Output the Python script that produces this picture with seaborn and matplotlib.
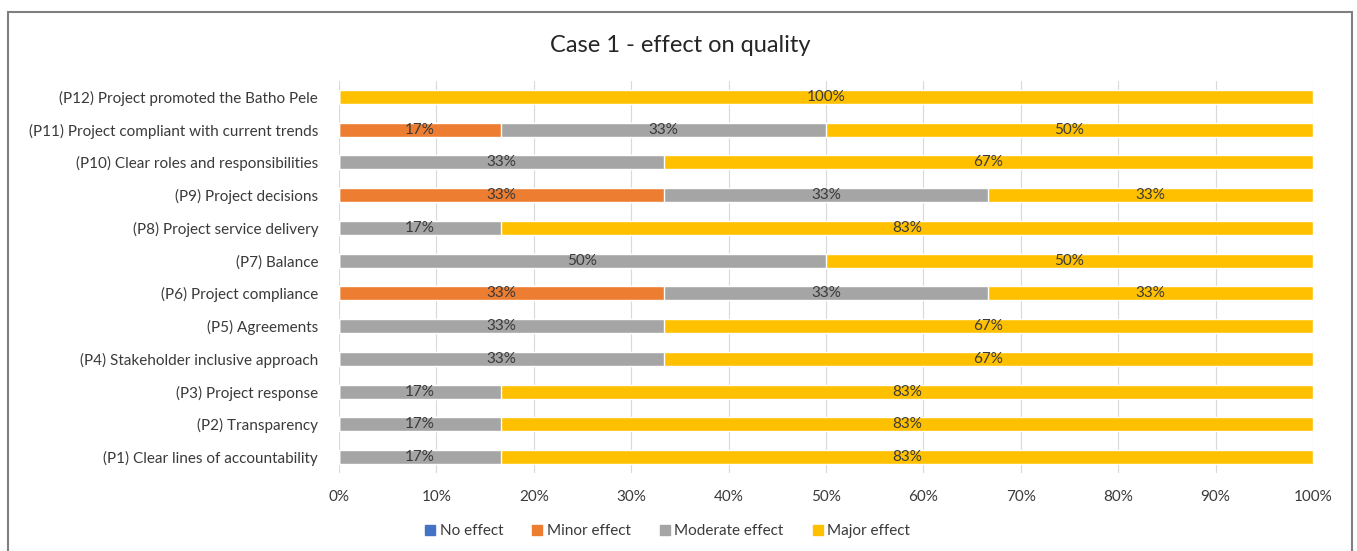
import matplotlib
matplotlib.use("Agg")
import matplotlib.pyplot as plt
import matplotlib.patches as mpatches
import numpy as np
import pandas as pd
import seaborn as sns

categories = [
    "(P12) Project promoted the Batho Pele",
    "(P11) Project compliant with current trends",
    "(P10) Clear roles and responsibilities",
    "(P9) Project decisions",
    "(P8) Project service delivery",
    "(P7) Balance",
    "(P6) Project compliance",
    "(P5) Agreements",
    "(P4) Stakeholder inclusive approach",
    "(P3) Project response",
    "(P2) Transparency",
    "(P1) Clear lines of accountability",
]
no_effect = [0, 0, 0, 0, 0, 0, 0, 0, 0, 0, 0, 0]
minor_effect = [0, 16.67, 0, 33.33, 0, 0, 33.33, 0, 0, 0, 0, 0]
moderate_effect = [0, 33.33, 33.33, 33.33, 16.67, 50, 33.33, 33.33, 33.33, 16.67, 16.67, 16.67]
major_effect = [100, 50, 66.67, 33.33, 83.33, 50, 33.33, 66.67, 66.67, 83.33, 83.33, 83.33]
series_names = ["No effect", "Minor effect", "Moderate effect", "Major effect"]
series_colors = ["#4472C4", "#ED7D31", "#A5A5A5", "#FFC000"]
x_ticks = [0, 10, 20, 30, 40, 50, 60, 70, 80, 90, 100]
title = "Case 1 - effect on quality"

sns.set_theme(style="white")
plt.rcParams["font.family"] = ["Lato", "DejaVu Sans"]

series = [no_effect, minor_effect, moderate_effect, major_effect]
df = pd.DataFrame({"category": categories})
cum = np.zeros(len(categories))
lefts = []
for name, vals in zip(series_names, series):
    lefts.append(cum.copy())
    cum = cum + np.array(vals, dtype=float)
    df[name] = cum.copy()

fig = plt.figure(figsize=(13.57, 5.51), dpi=100)
ax = fig.add_axes([0.2498, 0.1408, 0.7178, 0.7129])

# draw from largest cumulative to smallest so each segment shows
for name, color in reversed(list(zip(series_names, series_colors))):
    sns.barplot(data=df, y="category", x=name, orient="h", color=color,
                width=0.43, saturation=1, ax=ax, order=categories)

# labels
for vals, left in zip(series, lefts):
    for i, (v, l) in enumerate(zip(vals, left)):
        if v > 0:
            ax.text(l + v / 2, i, f"{round(v)}%", ha="center", va="center",
                    fontsize=11, color="#3A3A3A")

ax.set_xlim(0, 100)
ax.set_ylim(len(categories) - 0.5, -0.5)
ax.set_xticks(x_ticks)
ax.set_xticklabels([f"{t}%" for t in x_ticks])
ax.set_xlabel("")
ax.set_ylabel("")
ax.tick_params(axis="both", length=0, labelsize=11, labelcolor="#3A3A3A")
ax.tick_params(axis="x", pad=12)
ax.tick_params(axis="y", pad=15)
ax.xaxis.grid(True, color="#D9D9D9", linewidth=0.8)
ax.set_axisbelow(True)
for s in ax.spines.values():
    s.set_visible(False)

fig.text(0.501, 0.918, title, ha="center", va="center", fontsize=17, color="#262626")

handles = [mpatches.Patch(color=c, label=n) for n, c in zip(series_names, series_colors)]
fig.legend(handles=handles, loc="center", bbox_to_anchor=(0.492, 0.036), ncol=4,
           frameon=False, fontsize=11, handlelength=0.65, handleheight=0.65,
           handletextpad=0.3, columnspacing=1.9, labelcolor="#3A3A3A")

# outer frame
frame = mpatches.Rectangle((8 / 1357, -0.05), (1352 - 8) / 1357, 1 - 12 / 551 + 0.05,
                           transform=fig.transFigure, fill=False, edgecolor="#7F7F7F",
                           linewidth=1.5, clip_on=False)
fig.patches.append(frame)

fig.savefig("out.png", dpi=100, facecolor="white")
